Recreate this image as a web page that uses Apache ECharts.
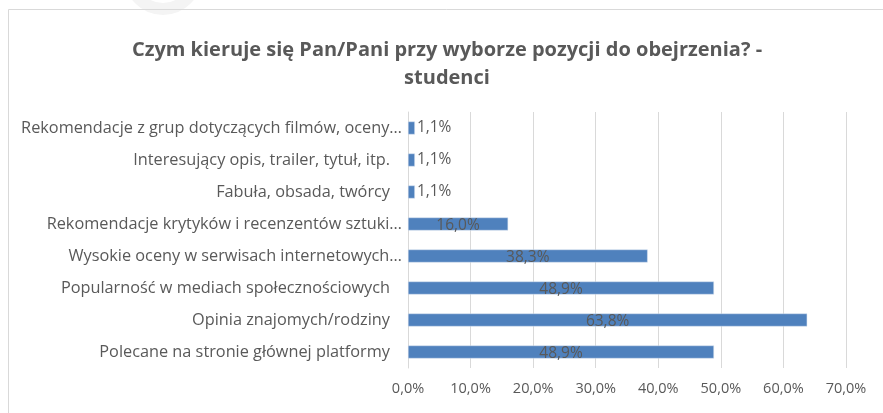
<!DOCTYPE html>
<html>
<head>
<meta charset="utf-8">
<script src="https://cdn.jsdelivr.net/npm/echarts@6/dist/echarts.min.js"></script>
<style>
html,body{margin:0;padding:0;background:#fff;}
#chart{width:883px;height:413px;}
</style>
</head>
<body>
<div id="chart"></div>
<script>
// Data (bottom to top, as ECharts category axis runs)
const titleText = 'Czym kieruje się Pan/Pani przy wyborze pozycji do obejrzenia? -\nstudenci';
const categories = [
  'Polecane na stronie głównej platformy',
  'Opinia znajomych/rodziny',
  'Popularność w mediach społecznościowych',
  'Wysokie oceny w serwisach internetowych…',
  'Rekomendacje krytyków i recenzentów sztuki…',
  'Fabuła, obsada, twórcy',
  'Interesujący opis, trailer, tytuł, itp.',
  'Rekomendacje z grup dotyczących filmów, oceny…'
];
const values = [48.9, 63.8, 48.9, 38.3, 16.0, 1.1, 1.1, 1.1];
const axisMin = 0, axisMax = 70, axisStep = 10;

const fmt = v => v.toFixed(1).replace('.', ',') + '%';
const txt = '#595959';
const font = '"Open Sans", "Noto Sans", sans-serif';

const chart = echarts.init(document.getElementById('chart'));
chart.setOption({
  animation: false,
  backgroundColor: '#fff',
  graphic: [
    { type: 'circle', shape: { cx: 163, cy: -24, r: 33 }, style: { fill: 'none', stroke: '#f4f4f4', lineWidth: 12 }, silent: true },
    { type: 'rect', shape: { x: 8.5, y: 9.5, width: 900, height: 450 }, style: { fill: 'none', stroke: '#d9d9d9', lineWidth: 1 }, silent: true }
  ],
  title: {
    text: titleText,
    left: 442, top: 31, textAlign: 'center',
    textStyle: { fontFamily: font, fontSize: 20, fontWeight: 'bold', color: txt, lineHeight: 28 }
  },
  grid: { left: 408, right: 37, top: 112, bottom: 45, containLabel: false },
  xAxis: {
    type: 'value', min: axisMin, max: axisMax, interval: axisStep,
    axisLine: { show: false }, axisTick: { show: false },
    splitLine: { show: true, lineStyle: { color: '#d9d9d9', width: 1 } },
    axisLabel: { formatter: v => fmt(v), color: txt, fontFamily: font, fontSize: 14.5, margin: 13 }
  },
  yAxis: {
    type: 'category', data: categories,
    axisLine: { show: true, lineStyle: { color: '#d9d9d9' } },
    axisTick: { show: false },
    axisLabel: {
      color: txt, fontFamily: font, fontSize: 16.3, margin: 6,
      formatter: v => v.endsWith('…') ? '{t|' + v + '}' : '{p|' + v + '}',
      rich: {
        t: { color: txt, fontFamily: font, fontSize: 16.3 },
        p: { color: txt, fontFamily: font, fontSize: 16.3, padding: [0, 12, 0, 0] }
      }
    }
  },
  series: [{
    type: 'bar',
    barWidth: 13,
    itemStyle: { color: '#4f81bd', borderColor: '#dbe5f1', borderWidth: 0.5 },
    data: values.map(v => ({
      value: v,
      label: v < 5 ? { position: 'right', distance: 2 } : { position: 'inside', offset: [0, 2] }
    })),
    label: {
      show: true, formatter: p => fmt(p.value), color: txt,
      fontFamily: font, fontSize: 15.5
    }
  }]
});
</script>
</body>
</html>
